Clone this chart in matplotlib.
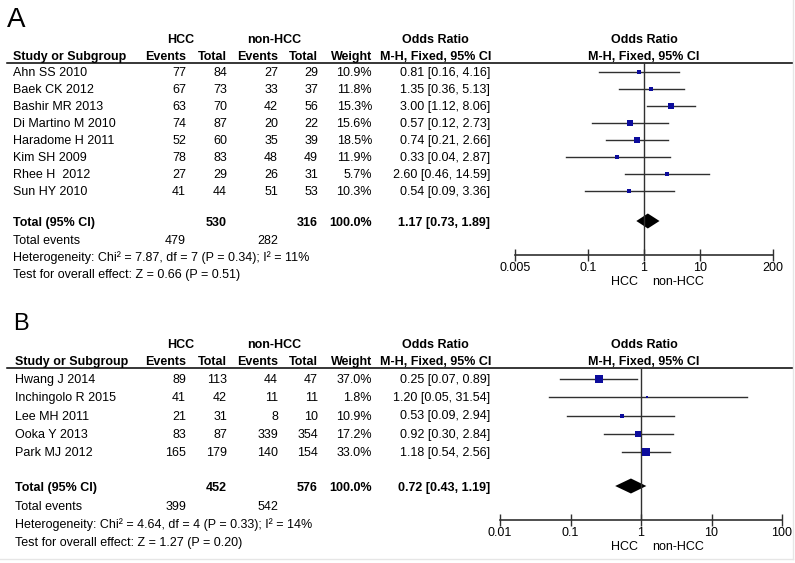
import numpy as np
import matplotlib
matplotlib.use('Agg')
import matplotlib.pyplot as plt

plt.rcParams['font.family'] = ['Liberation Sans', 'DejaVu Sans']
plt.rcParams['font.size'] = 9

# ---- panel A data ----
studies_a = ['Ahn SS 2010', 'Baek CK 2012', 'Bashir MR 2013', 'Di Martino M 2010',
             'Haradome H 2011', 'Kim SH 2009', 'Rhee H  2012', 'Sun HY 2010']
hcc_ev_a = [77, 67, 63, 74, 52, 78, 27, 41]
hcc_tot_a = [84, 73, 70, 87, 60, 83, 29, 44]
non_ev_a = [27, 33, 42, 20, 35, 48, 26, 51]
non_tot_a = [29, 37, 56, 22, 39, 49, 31, 53]
weight_a = [10.9, 11.8, 15.3, 15.6, 18.5, 11.9, 5.7, 10.3]
or_a = [0.81, 1.35, 3.00, 0.57, 0.74, 0.33, 2.60, 0.54]
lo_a = [0.16, 0.36, 1.12, 0.12, 0.21, 0.04, 0.46, 0.09]
hi_a = [4.16, 5.13, 8.06, 2.73, 2.66, 2.87, 14.59, 3.36]
total_a = dict(hcc_tot=530, non_tot=316, hcc_ev=479, non_ev=282,
               est=1.17, lo=0.73, hi=1.89,
               het='Heterogeneity: Chi\u00b2 = 7.87, df = 7 (P = 0.34); I\u00b2 = 11%',
               test='Test for overall effect: Z = 0.66 (P = 0.51)')
ticks_a = [0.005, 0.1, 1, 10, 200]
tick_labels_a = ['0.005', '0.1', '1', '10', '200']

# ---- panel B data ----
studies_b = ['Hwang J 2014', 'Inchingolo R 2015', 'Lee MH 2011', 'Ooka Y 2013', 'Park MJ 2012']
hcc_ev_b = [89, 41, 21, 83, 165]
hcc_tot_b = [113, 42, 31, 87, 179]
non_ev_b = [44, 11, 8, 339, 140]
non_tot_b = [47, 11, 10, 354, 154]
weight_b = [37.0, 1.8, 10.9, 17.2, 33.0]
or_b = [0.25, 1.20, 0.53, 0.92, 1.18]
lo_b = [0.07, 0.05, 0.09, 0.30, 0.54]
hi_b = [0.89, 31.54, 2.94, 2.84, 2.56]
total_b = dict(hcc_tot=452, non_tot=576, hcc_ev=399, non_ev=542,
               est=0.72, lo=0.43, hi=1.19,
               het='Heterogeneity: Chi\u00b2 = 4.64, df = 4 (P = 0.33); I\u00b2 = 14%',
               test='Test for overall effect: Z = 1.27 (P = 0.20)')
ticks_b = [0.01, 0.1, 1, 10, 100]
tick_labels_b = ['0.01', '0.1', '1', '10', '100']

W, H = 795, 563
fig = plt.figure(figsize=(W / 100, H / 100), dpi=100)
bg = fig.add_axes([0, 0, 1, 1])
bg.set_xlim(0, W)
bg.set_ylim(H, 0)
bg.axis('off')

SQ_BLUE = '#0c0c9c'
LINE = '#303030'


def panel(letter, letter_xy, letter_size, top, rows_y, tot_y, foot_y, plot_x, axis_y,
          studies, hcc_ev, hcc_tot, non_ev, non_tot, weight, ors, lo, hi, tot,
          ticks, tick_labels, xlim, name_x, sq_k):
    # column right edges
    c_ev1, c_tot1, c_ev2, c_tot2, c_w, c_or = 186, 227, 278, 318, 372, 490
    bg.text(letter_xy[0], letter_xy[1], letter, fontsize=letter_size, ha='left', va='center')
    bg.text(181, top - 17, 'HCC', ha='center', va='center', fontweight='bold')
    bg.text(274, top - 17, 'non-HCC', ha='center', va='center', fontweight='bold')
    bg.text(435, top - 17, 'Odds Ratio', ha='center', va='center', fontweight='bold')
    bg.text(644, top - 17, 'Odds Ratio', ha='center', va='center', fontweight='bold')
    hy = top
    bg.text(name_x, hy, 'Study or Subgroup', ha='left', va='center', fontweight='bold')
    for x, s in [(c_ev1, 'Events'), (c_tot1, 'Total'), (c_ev2, 'Events'),
                 (c_tot2, 'Total'), (c_w, 'Weight'), (c_or + 1, 'M-H, Fixed, 95% CI')]:
        bg.text(x, hy, s, ha='right', va='center', fontweight='bold')
    bg.text(644, hy, 'M-H, Fixed, 95% CI', ha='center', va='center', fontweight='bold')
    bg.plot([7, 793], [top + 5.5, top + 5.5], color='black', lw=1.1)

    for i, y in enumerate(rows_y):
        bg.text(name_x, y, studies[i], ha='left', va='center')
        bg.text(c_ev1, y, str(hcc_ev[i]), ha='right', va='center')
        bg.text(c_tot1, y, str(hcc_tot[i]), ha='right', va='center')
        bg.text(c_ev2, y, str(non_ev[i]), ha='right', va='center')
        bg.text(c_tot2, y, str(non_tot[i]), ha='right', va='center')
        bg.text(c_w, y, '%.1f%%' % weight[i], ha='right', va='center')
        bg.text(c_or, y, '%.2f [%.2f, %.2f]' % (ors[i], lo[i], hi[i]), ha='right', va='center')

    bg.text(name_x, tot_y, 'Total (95% CI)', ha='left', va='center', fontweight='bold')
    bg.text(c_tot1, tot_y, str(tot['hcc_tot']), ha='right', va='center', fontweight='bold')
    bg.text(c_tot2, tot_y, str(tot['non_tot']), ha='right', va='center', fontweight='bold')
    bg.text(c_w, tot_y, '100.0%', ha='right', va='center', fontweight='bold')
    bg.text(c_or, tot_y, '%.2f [%.2f, %.2f]' % (tot['est'], tot['lo'], tot['hi']),
            ha='right', va='center', fontweight='bold')
    bg.text(name_x, foot_y[0], 'Total events', ha='left', va='center')
    bg.text(c_ev1, foot_y[0], str(tot['hcc_ev']), ha='right', va='center')
    bg.text(c_ev2, foot_y[0], str(tot['non_ev']), ha='right', va='center')
    bg.text(name_x, foot_y[1], tot['het'], ha='left', va='center')
    bg.text(name_x, foot_y[2], tot['test'], ha='left', va='center')

    # forest axes, placed in pixel terms
    x0, x1 = plot_x
    y_top = top + 5.5
    ax = fig.add_axes([x0 / W, 1 - axis_y / H, (x1 - x0) / W, (axis_y - y_top) / H])
    ax.set_xscale('log')
    ax.set_xlim(*xlim)
    ax.set_ylim(axis_y, y_top)
    ax.patch.set_alpha(0)
    for s in ['top', 'right', 'left']:
        ax.spines[s].set_visible(False)
    ax.spines['bottom'].set_color(LINE)
    ax.spines['bottom'].set_linewidth(1.2)
    ax.set_yticks([])
    ax.set_xticks(ticks)
    ax.set_xticklabels(tick_labels)
    ax.minorticks_off()
    ax.tick_params(axis='x', direction='inout', length=8, width=1, color=LINE,
                   labelsize=9, pad=1)
    ax.axvline(1, color=LINE, lw=1)

    for i, y in enumerate(rows_y):
        ax.plot([lo[i], hi[i]], [y - 1, y - 1], color=LINE, lw=1)
        side = max(sq_k * np.sqrt(weight[i]), 2.2)
        ax.plot(ors[i], y - 1, marker='s', ms=side * 0.72, color=SQ_BLUE, mec=SQ_BLUE, mew=0)
    yc = tot_y - 2
    ax.fill([tot['lo'], tot['est'], tot['hi'], tot['est']],
            [yc, yc - 7.5, yc, yc + 7.5], color='black', lw=0)

    lab_y = axis_y + 27
    bg.text(624, lab_y, 'HCC', ha='center', va='center')
    bg.text(678, lab_y, 'non-HCC', ha='center', va='center')
    return ax


panel('A', (7, 20), 20, 57, [73 + 17 * i for i in range(len(studies_a))], 223,
      [241, 258, 275], (515, 773), 255,
      studies_a, hcc_ev_a, hcc_tot_a, non_ev_a, non_tot_a, weight_a, or_a, lo_a, hi_a,
      total_a, ticks_a, tick_labels_a, (0.005, 200), 13, 1.4)

panel('B', (13, 324), 17, 362, [380 + 18.25 * i for i in range(len(studies_b))], 488,
      [507, 525, 543], (500, 782), 520,
      studies_b, hcc_ev_b, hcc_tot_b, non_ev_b, non_tot_b, weight_b, or_b, lo_b, hi_b,
      total_b, ticks_b, tick_labels_b, (0.01, 100), 15, 1.45)

# faint frame edges
bg.plot([793, 793], [0, 559], color='#e6e6e6', lw=1)
bg.plot([0, 793], [559, 559], color='#e6e6e6', lw=1)

fig.savefig('out.png', dpi=100)
